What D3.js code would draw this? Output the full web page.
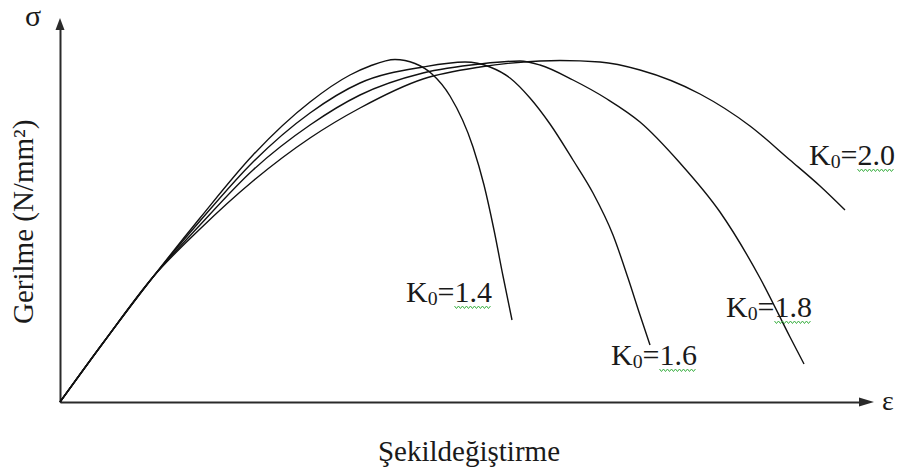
<!DOCTYPE html>
<html>
<head>
<meta charset="utf-8">
<script src="https://cdn.jsdelivr.net/npm/d3@7"></script>
<style>
  html, body { margin: 0; padding: 0; background: #fff; }
  svg { display: block; }
</style>
</head>
<body>
<svg id="chart" width="906" height="472"></svg>
<script>
// Stress–strain curves for different K0 values (ε in ‰, σ in N/mm²)
const seriesNames = ["1.4", "1.6", "1.8", "2.0"];

const strainK14 = [0, 0.43, 0.93, 1.40, 1.93, 2.50, 2.90, 3.10, 3.35, 3.55, 3.72, 3.90, 4.13, 4.24, 4.34, 4.43, 4.52];
const stressK14 = [0, 5.9, 12.5, 18.4, 24.7, 30.0, 32.7, 33.6, 34.25, 33.85, 32.8, 30.6, 25.5, 21.7, 17.2, 12.6, 8.2];

const strainK16 = [0, 0.43, 0.93, 1.40, 1.93, 2.50, 3.00, 3.63, 4.05, 4.30, 4.50, 4.70, 4.90, 5.13, 5.33, 5.53, 5.68, 5.80, 5.90];
const stressK16 = [0, 5.9, 12.5, 18.1, 24.0, 28.9, 31.9, 33.5, 34.0, 33.5, 32.4, 30.4, 27.8, 24.2, 20.9, 16.7, 12.4, 8.7, 5.7];

const strainK18 = [0, 0.43, 0.93, 1.40, 1.93, 2.50, 3.00, 3.63, 4.20, 4.60, 4.80, 5.13, 5.47, 5.80, 6.20, 6.60, 7.00, 7.30, 7.44];
const stressK18 = [0, 5.9, 12.5, 17.7, 23.2, 27.7, 30.7, 32.9, 33.8, 34.1, 33.7, 32.2, 30.3, 28.0, 23.9, 19.0, 12.4, 6.5, 3.8];

const strainK20 = [0, 0.43, 0.93, 1.40, 1.93, 2.50, 3.00, 3.63, 4.20, 4.80, 5.00, 5.40, 5.80, 6.40, 6.90, 7.30, 7.60, 7.85];
const stressK20 = [0, 5.9, 12.5, 17.3, 22.1, 26.4, 29.4, 32.3, 33.5, 34.1, 34.15, 34.0, 33.2, 30.8, 27.6, 24.2, 21.6, 19.2];

const strains = [strainK14, strainK16, strainK18, strainK20];
const stresses = [stressK14, stressK16, stressK18, stressK20];

// Axis texts
const yAxisTitle = "Gerilme (N/mm²)";
const xAxisTitle = "Şekildeğiştirme";
const yAxisSymbol = "σ";
const xAxisSymbol = "ε";

// Layout
const FONT = "'Liberation Serif', 'Times New Roman', serif";
const svg = d3.select("#chart").attr("font-family", FONT);
const origin = { x: 60, y: 402 };
const xMax = 8.14, yMax = 38.4;
const x = d3.scaleLinear().domain([0, xMax]).range([origin.x, origin.x + 814]);
const y = d3.scaleLinear().domain([0, yMax]).range([origin.y, origin.y - 384]);

// Where each K0 label sits, in data units (left edge, baseline)
const labelAnchors = [
  { e: 3.46, s: 10.0 },
  { e: 5.51, s: 3.7 },
  { e: 6.66, s: 8.5 },
  { e: 7.49, s: 23.7 }
];

// Axes: plain lines with arrowheads, no ticks
const arrowLenX = 15, arrowLenY = 12, arrowHalf = 4.5;
const axisColor = "#2a2a2a";

const xAxis = svg.append("g")
  .attr("transform", `translate(0,${y(0)})`)
  .call(d3.axisBottom(x.copy().range([x(0), x(xMax) - arrowLenX + 1])).ticks(0).tickSizeOuter(0));
const yAxis = svg.append("g")
  .attr("transform", `translate(${x(0)},0)`)
  .call(d3.axisLeft(y.copy().range([y(0), y(yMax) + arrowLenY - 1])).ticks(0).tickSizeOuter(0));
[xAxis, yAxis].forEach(g => {
  g.select(".domain").attr("stroke", axisColor).attr("stroke-width", 2);
  g.selectAll(".tick").remove();
});

// Arrowheads
svg.append("path")
  .attr("d", `M${x(xMax)},${y(0)} L${x(xMax) - arrowLenX},${y(0) - arrowHalf} L${x(xMax) - arrowLenX},${y(0) + arrowHalf} Z`)
  .attr("fill", axisColor);
svg.append("path")
  .attr("d", `M${x(0)},${y(yMax)} L${x(0) - arrowHalf},${y(yMax) + arrowLenY} L${x(0) + arrowHalf},${y(yMax) + arrowLenY} Z`)
  .attr("fill", axisColor);

const addText = (sel) => sel.append("text").attr("font-family", FONT).attr("fill", "#1a1a1a");

// Axis symbols
addText(svg).attr("x", 25).attr("y", 26).attr("font-size", 30).text(yAxisSymbol);
addText(svg).attr("x", 882).attr("y", 410).attr("font-size", 28).text(xAxisSymbol);

// Axis titles
addText(svg)
  .attr("transform", `translate(33,324) rotate(-90)`)
  .attr("font-size", 29)
  .attr("text-anchor", "start")
  .text(yAxisTitle);
addText(svg)
  .attr("x", 469).attr("y", 461)
  .attr("font-size", 29)
  .attr("text-anchor", "middle")
  .text(xAxisTitle);

// Curves
const line = d3.line()
  .x(d => x(d[0]))
  .y(d => y(d[1]))
  .curve(d3.curveMonotoneX);

svg.append("g")
  .selectAll("path")
  .data(strains.map((xs, i) => xs.map((v, j) => [v, stresses[i][j]])))
  .join("path")
  .attr("d", line)
  .attr("fill", "none")
  .attr("stroke", "#111")
  .attr("stroke-width", 1.4);

// K0 labels with the proofing squiggle under the numbers
const labelSize = 30;
seriesNames.forEach((name, i) => {
  const a = labelAnchors[i];
  const t = addText(svg)
    .attr("x", x(a.e)).attr("y", y(a.s))
    .attr("font-size", labelSize);
  t.append("tspan").text("K");
  t.append("tspan").attr("font-size", labelSize * 0.66).attr("dy", 3).text("0");
  t.append("tspan").attr("dy", -3).text("=");
  t.append("tspan").text(name);

  const node = t.node();
  const start = node.getStartPositionOfChar(3).x;
  const end = node.getEndPositionOfChar(3 + name.length - 1).x;
  const base = y(a.s) + 4;
  const pts = [];
  for (let px = start, k = 0; px <= end; px += 2, k++) pts.push([px, base + (k % 2 ? 2.5 : 0)]);
  svg.append("path")
    .attr("d", d3.line()(pts))
    .attr("fill", "none")
    .attr("stroke", "#3cb043")
    .attr("stroke-width", 1);
});
</script>
</body>
</html>
